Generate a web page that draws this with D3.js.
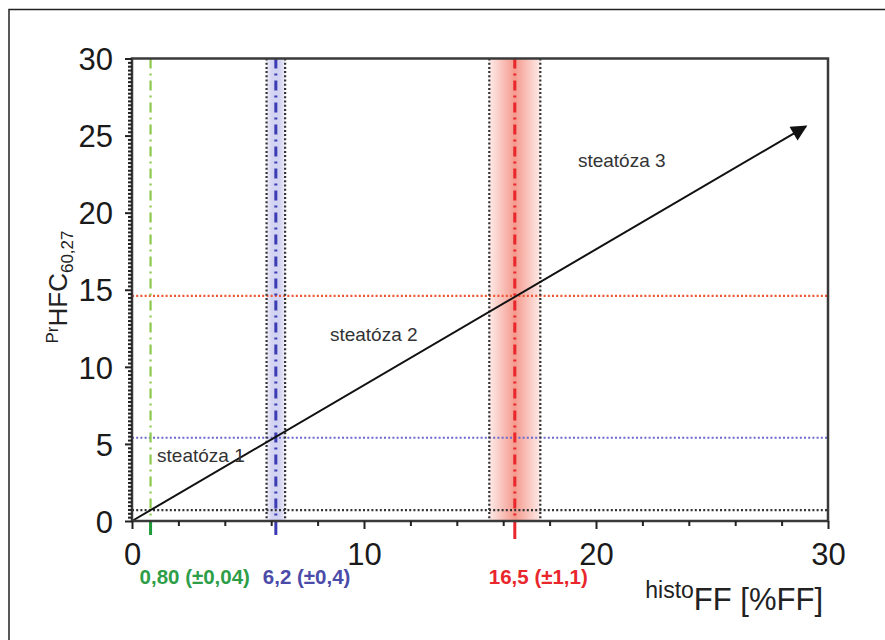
<!DOCTYPE html>
<html>
<head>
<meta charset="utf-8">
<script src="https://cdn.jsdelivr.net/npm/d3@7/dist/d3.min.js"></script>
<style>
  html, body { margin: 0; padding: 0; background: #fff; }
  svg { display: block; font-family: "Liberation Sans", Arial, sans-serif; }
</style>
</head>
<body>
<svg id="chart" width="885" height="640"></svg>
<script>
// ---- data ----
const xTickValues = [0, 10, 20, 30];
const yTickValues = [0, 5, 10, 15, 20, 25, 30];
const markerNames = ["green", "blue", "red"];
const markerValues = [0.8, 6.2, 16.5];
const markerErrors = [0.04, 0.4, 1.1];
const markerLabels = ["0,80 (±0,04)", "6,2 (±0,4)", "16,5 (±1,1)"];
const levelValues = [0.7, 5.4, 14.6];
const arrowStart = [0, 0];
const arrowEnd = [29.05, 25.6];
const regionLabels = ["steatóza 1", "steatóza 2", "steatóza 3"];
const regionX = [1.08, 8.53, 19.22];
const regionY = [3.85, 11.67, 22.96];

// ---- styles ----
const markerLineColors = ["#8cc84b", "#3c3cb4", "#e8262b"];
const markerTickColors = ["#1f9a3a", "#3c3cb4", "#e8262b"];
const markerTextColors = ["#2e9e48", "#4b4ba9", "#e8262b"];
const levelColors = ["#333333", "#6a6ad0", "#ee5533"];
const labelDx = [-11, -13, -26];

const svg = d3.select("#chart");
const x = d3.scaleLinear().domain([0, 30]).range([132, 828]);
const y = d3.scaleLinear().domain([0, 30]).range([521, 58.5]);

svg.append("rect").attr("width", 885).attr("height", 640).attr("fill", "#fff");
// outer frame
svg.append("path").attr("d", "M9,640 L9,9.5 L885,9.5")
  .attr("fill", "none").attr("stroke", "#222").attr("stroke-width", 1.5);

const defs = svg.append("defs");
const rg = defs.append("linearGradient").attr("id", "redBand").attr("x1", "0").attr("x2", "1").attr("y1", "0").attr("y2", "0");
rg.append("stop").attr("offset", "0%").attr("stop-color", "#fdebe8");
rg.append("stop").attr("offset", "50%").attr("stop-color", "#f59a8e");
rg.append("stop").attr("offset", "100%").attr("stop-color", "#fdebe8");
const bg = defs.append("linearGradient").attr("id", "blueBand").attr("x1", "0").attr("x2", "1").attr("y1", "0").attr("y2", "0");
bg.append("stop").attr("offset", "0%").attr("stop-color", "#ececf9");
bg.append("stop").attr("offset", "30%").attr("stop-color", "#d3d3f2");
bg.append("stop").attr("offset", "70%").attr("stop-color", "#d3d3f2");
bg.append("stop").attr("offset", "100%").attr("stop-color", "#ececf9");
const bandFills = [null, "url(#blueBand)", "url(#redBand)"];

// bands
markerValues.forEach((v, i) => {
  if (!bandFills[i]) return;
  const e = markerErrors[i];
  svg.append("rect")
    .attr("x", x(v - e)).attr("width", x(v + e) - x(v - e))
    .attr("y", y(30)).attr("height", y(0) - y(30))
    .attr("fill", bandFills[i]);
});

// horizontal dotted levels
levelValues.forEach((lv, i) => {
  svg.append("line")
    .attr("x1", x(0)).attr("x2", x(30)).attr("y1", y(lv)).attr("y2", y(lv))
    .attr("stroke", levelColors[i]).attr("stroke-width", 2.2)
    .attr("stroke-dasharray", "2,2.2");
});

// vertical dotted band edges
markerValues.forEach((v, i) => {
  if (!bandFills[i]) return;
  const e = markerErrors[i];
  [v - e, v + e].forEach(ev => {
    svg.append("line")
      .attr("x1", x(ev)).attr("x2", x(ev)).attr("y1", y(30)).attr("y2", y(0))
      .attr("stroke", "#333").attr("stroke-width", 2.2)
      .attr("stroke-dasharray", "2,2.2");
  });
});

// dash-dot marker lines and ticks under axis
markerValues.forEach((v, i) => {
  svg.append("line")
    .attr("x1", x(v)).attr("x2", x(v)).attr("y1", y(30)).attr("y2", y(0))
    .attr("stroke", markerLineColors[i]).attr("stroke-width", i === 0 ? 2.2 : 3)
    .attr("stroke-dasharray", "10,5,2,5");
  svg.append("line")
    .attr("x1", x(v)).attr("x2", x(v)).attr("y1", y(0)).attr("y2", y(0) + (i === 2 ? 18 : 14))
    .attr("stroke", markerTickColors[i]).attr("stroke-width", 3);
});

// arrow
defs.append("marker").attr("id", "arrowHead")
  .attr("viewBox", "0 0 10 10").attr("refX", 9).attr("refY", 5)
  .attr("markerWidth", 11).attr("markerHeight", 8).attr("markerUnits", "strokeWidth")
  .attr("orient", "auto")
  .append("path").attr("d", "M0,0 L10,5 L0,10 Z").attr("fill", "#111");
svg.append("line")
  .attr("x1", x(arrowStart[0])).attr("y1", y(arrowStart[1]))
  .attr("x2", x(arrowEnd[0])).attr("y2", y(arrowEnd[1]))
  .attr("stroke", "#111").attr("stroke-width", 2)
  .attr("marker-end", "url(#arrowHead)");

// plot box
svg.append("rect")
  .attr("x", x(0)).attr("y", y(30)).attr("width", x(30) - x(0)).attr("height", y(0) - y(30))
  .attr("fill", "none").attr("stroke", "#3a3a3a").attr("stroke-width", 2.5);

// axes
const xMinor = d3.range(0, 30.01, 2).filter(t => t % 10 !== 0);
const yMinor = d3.range(0, 30.01, 0.25).filter(t => t % 5 !== 0);
const xAxisG = svg.append("g").attr("transform", `translate(0,${y(0)})`);
xAxisG.call(d3.axisBottom(x).tickValues(xMinor).tickSize(5).tickFormat(""));
const xMajG = svg.append("g").attr("transform", `translate(0,${y(0)})`);
xMajG.call(d3.axisBottom(x).tickValues(xTickValues).tickSize(8).tickPadding(14).tickFormat(d3.format("d")));
const yAxisG = svg.append("g").attr("transform", `translate(${x(0)},0)`);
yAxisG.call(d3.axisLeft(y).tickValues(yMinor).tickSize(4).tickFormat(""));
const yMajG = svg.append("g").attr("transform", `translate(${x(0)},0)`);
yMajG.call(d3.axisLeft(y).tickValues(yTickValues).tickSize(7).tickPadding(12).tickFormat(d3.format("d")));
[xAxisG, xMajG, yAxisG, yMajG].forEach(g => {
  g.select(".domain").remove();
  g.selectAll(".tick line").attr("stroke", "#222").attr("stroke-width", 2);
  g.selectAll(".tick text").attr("fill", "#1a1a1a")
    .style("font-family", "'Liberation Sans', Arial, sans-serif").style("font-size", "31px");
});
xMajG.selectAll(".tick text").attr("dy", "0.71em");
yMajG.selectAll(".tick text").attr("dy", "0.36em");

// marker labels
markerValues.forEach((v, i) => {
  svg.append("text")
    .attr("x", x(v) + labelDx[i]).attr("y", 584)
    .attr("fill", markerTextColors[i])
    .style("font-size", "20.5px").style("font-weight", "bold")
    .text(markerLabels[i]);
});

// region labels
regionLabels.forEach((t, i) => {
  svg.append("text")
    .attr("x", x(regionX[i])).attr("y", y(regionY[i]))
    .attr("fill", "#333").style("font-size", "19px")
    .text(t);
});

// y axis title
const yt = svg.append("text")
  .attr("transform", "translate(67,287) rotate(-90)")
  .attr("text-anchor", "middle").attr("fill", "#222");
yt.append("tspan").style("font-size", "17px").attr("dy", "-9").text("Pr");
yt.append("tspan").style("font-size", "26px").attr("dy", "9").text("HFC");
yt.append("tspan").style("font-size", "17px").attr("dy", "6").text("60,27");

// x axis title
const xt = svg.append("text")
  .attr("x", 823).attr("y", 610)
  .attr("text-anchor", "end").attr("fill", "#222");
xt.append("tspan").style("font-size", "23px").attr("dy", "-12").text("histo");
xt.append("tspan").style("font-size", "31px").attr("dy", "12").text("FF [%FF]");
</script>
</body>
</html>
